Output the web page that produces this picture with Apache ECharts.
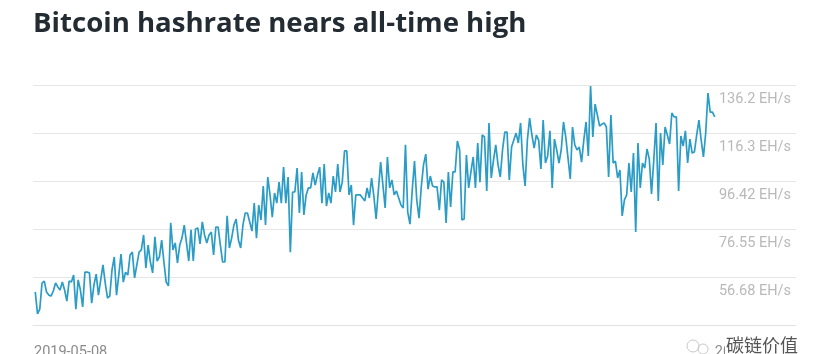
<!DOCTYPE html>
<html>
<head>
<meta charset="utf-8">
<style>
  html, body { margin: 0; padding: 0; background: #fff; overflow: hidden; }
  #chart { width: 830px; height: 354px; }
</style>
</head>
<body>
<div id="chart"></div>
<script src="https://cdn.jsdelivr.net/npm/echarts@6/dist/echarts.min.js"></script>
<script>
// daily hashrate in EH/s
var hashrate = [
  50.7,41.6,43.6,54.4,55.2,50.7,49.4,49.0,51.1,54.4,52.8,51.5,54.8,51.5,46.9,55.2,54.8,57.7,43.6,55.7,
  51.5,44.5,58.9,58.9,58.6,46.1,53.6,58.1,49.4,55.7,61.9,54.4,48.2,49.0,59.8,65.2,49.4,57.7,66.4,54.8,
  58.9,57.7,66.0,67.2,56.5,61.9,67.2,68.1,74.3,60.6,70.1,63.1,58.6,73.5,63.5,65.2,72.2,63.1,54.8,53.2,
  79.3,68.1,71.0,62.7,70.1,73.0,78.4,71.0,63.5,76.4,63.5,76.8,77.2,70.6,79.7,74.3,71.0,74.3,75.5,66.0,
  77.6,77.6,70.1,63.1,63.1,82.2,68.9,73.0,78.4,80.9,72.2,68.9,78.4,83.4,83.4,79.7,75.9,87.5,73.0,86.7,
  80.5,94.6,78.4,98.3,90.9,81.7,91.7,87.5,96.2,87.5,102.4,87.5,98.3,67.2,92.1,92.1,102.0,83.4,100.4,82.6,
  90.9,93.8,93.8,100.0,95.0,99.1,102.4,87.5,103.7,86.3,91.7,87.5,98.7,92.1,103.7,92.1,96.2,109.1,109.1,90.9,
  95.0,78.4,90.9,90.9,90.9,89.6,88.4,93.8,89.6,97.9,90.4,80.9,92.9,104.5,95.0,85.5,106.6,93.8,97.1,90.9,
  92.5,89.6,86.7,85.5,111.6,83.8,78.8,92.9,104.9,88.8,81.3,94.2,103.3,107.8,93.3,98.7,94.6,94.2,94.2,84.6,
  97.1,96.2,79.3,100.4,85.9,100.4,100.4,113.2,109.5,80.5,80.9,107.4,93.8,100.4,106.6,93.8,112.4,96.2,115.7,114.9,
  92.5,120.7,97.9,105.3,111.6,103.3,98.3,109.5,116.9,116.9,97.1,110.7,113.6,116.5,112.4,120.7,103.3,94.6,113.6,122.7,
  115.7,110.3,115.7,113.6,101.6,121.9,104.1,107.0,117.4,93.8,114.0,109.5,104.1,109.5,121.1,114.9,106.2,97.5,119.0,111.6,
  109.5,110.7,104.5,113.6,121.1,107.0,136.0,114.9,128.5,124.0,119.4,120.2,120.7,119.0,98.3,124.0,104.1,104.9,97.9,101.2,
  82.2,88.8,90.9,104.1,92.1,108.2,75.5,112.4,93.8,104.1,102.0,109.9,105.8,91.3,105.3,120.7,88.4,116.5,103.3,119.0,
  115.7,112.0,124.8,123.2,123.2,92.5,115.3,111.1,117.4,104.1,114.0,108.2,108.7,115.7,121.9,113.6,106.6,116.5,133.1,125.2,
  125.2,123.2
];
var yTicks = [36.81, 56.68, 76.55, 96.42, 116.3, 136.2];
var yTickLabels = ['', '56.68 EH/s', '76.55 EH/s', '96.42 EH/s', '116.3 EH/s', '136.2 EH/s'];
var xTickLabels = ['2019-05-08', '2020-03-03'];

// x is days since the first date
var points = hashrate.map(function (v, i) {
  return [i, v];
});
var xMin = -1;
var xMax = 337;

var myChart = echarts.init(document.getElementById('chart'));
myChart.setOption({
  animation: false,
  backgroundColor: '#fff',
  title: {
    text: 'Bitcoin hashrate nears all-time high',
    left: 28,
    top: 5,
    textStyle: {
      fontFamily: 'Open Sans',
      fontWeight: 700,
      fontSize: 27.6,
      color: '#232c33'
    }
  },
  grid: { left: 33, right: 34, top: 85.5, bottom: 28.5, outerBoundsMode: 'none' },
  xAxis: {
    type: 'value',
    min: xMin,
    max: xMax,
    axisLine: { show: true, lineStyle: { color: '#e2e2e2', width: 1 } },
    axisTick: { show: false },
    splitLine: { show: false },
    axisLabel: {
      customValues: [xMin, xMax],
      alignMinLabel: 'left',
      alignMaxLabel: 'right',
      hideOverlap: false,
      margin: 19,
      padding: [0, 8, 0, 1],
      fontFamily: 'Roboto',
      fontSize: 14.5,
      color: '#8a8a8a',
      formatter: function (val) {
        return val === xMin ? xTickLabels[0] : xTickLabels[1];
      }
    }
  },
  yAxis: {
    type: 'value',
    position: 'right',
    min: yTicks[0],
    max: yTicks[5],
    axisLine: { show: false },
    axisTick: { show: false, customValues: yTicks },
    splitLine: { show: true, lineStyle: { color: '#e6e6e6', width: 1 } },
    axisLabel: {
      inside: true,
      customValues: yTicks,
      margin: 5,
      align: 'right',
      verticalAlign: 'top',
      padding: [6, 0, 0, 0],
      fontFamily: 'Roboto',
      fontSize: 14.5,
      color: '#b9b9b9',
      formatter: function (val) {
        return yTickLabels[yTicks.indexOf(val)];
      }
    }
  },
  series: [{
    type: 'line',
    data: points,
    showSymbol: false,
    smooth: false,
    lineStyle: { color: '#2b9cc6', width: 1.7 }
  }],
  graphic: [
    { type: 'rect', z: 100, shape: { x: 725, y: 336, width: 80, height: 18 }, style: { fill: '#fff' } },
    { type: 'text', z: 101, left: 726, top: 336, style: { text: '碳链价值', fontFamily: 'Noto Sans CJK SC', fontSize: 18, fill: '#555' } },
    { type: 'circle', z: 101, shape: { cx: 693, cy: 346, r: 6 }, style: { fill: 'none', stroke: '#c8c8c8', lineWidth: 1 } },
    { type: 'circle', z: 101, shape: { cx: 703, cy: 349, r: 5 }, style: { fill: 'none', stroke: '#c8c8c8', lineWidth: 1 } }
  ]
});
</script>
</body>
</html>
